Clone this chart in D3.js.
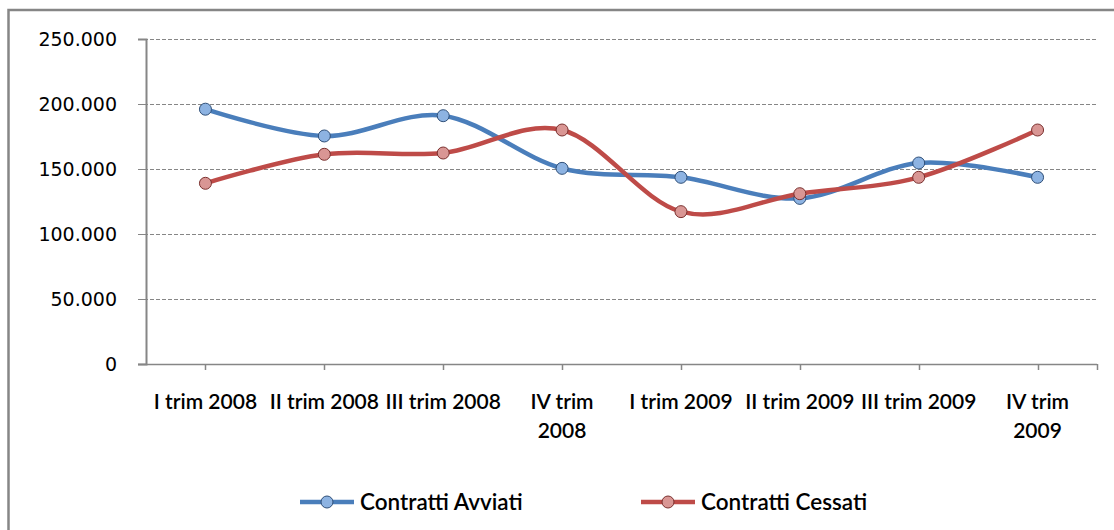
<!DOCTYPE html>
<html>
<head>
<meta charset="utf-8">
<script src="https://cdn.jsdelivr.net/npm/d3@7"></script>
<style>
  html, body { margin: 0; padding: 0; background: #ffffff; }
  svg { display: block; }
</style>
</head>
<body>
<div id="chart"></div>
<script>
// Quarterly contracts: started vs. terminated
const categories = ["I trim 2008", "II trim 2008", "III trim 2008", "IV trim 2008",
                    "I trim 2009", "II trim 2009", "III trim 2009", "IV trim 2009"];
const tickLabelLines = [["I trim 2008"], ["II trim 2008"], ["III trim 2008"], ["IV trim", "2008"],
                        ["I trim 2009"], ["II trim 2009"], ["III trim 2009"], ["IV trim", "2009"]];
const contrattiAvviati = [196000, 175400, 191000, 150500, 143600, 127400, 154600, 143600];
const contrattiCessati = [139000, 161300, 162300, 180000, 117200, 131000, 143600, 180000];
const yTickValues = [0, 50000, 100000, 150000, 200000, 250000];
const seriesNames = ["Contratti Avviati", "Contratti Cessati"];

const W = 1114, H = 530;
const plot = { left: 146, right: 1097, top: 39, bottom: 364 };

const series = [
  { name: seriesNames[0], values: contrattiAvviati, line: "#4a7ebb", fill: "#8db3e2", edge: "#2f4f78" },
  { name: seriesNames[1], values: contrattiCessati, line: "#be4b48", fill: "#d99694", edge: "#7a302e" }
];

const it = d3.formatLocale({ decimal: ",", thousands: ".", grouping: [3], currency: ["€", ""] });
const fmt = it.format(",");

const svg = d3.select("#chart").append("svg").attr("width", W).attr("height", H);

// outer chart frame
svg.append("rect")
  .attr("x", 8.5).attr("y", 10).attr("width", W + 20).attr("height", H + 20)
  .attr("fill", "none").attr("stroke", "#868686").attr("stroke-width", 2.5);

const x = d3.scalePoint().domain(categories).range([plot.left, plot.right]).padding(0.5);
const y = d3.scaleLinear().domain([0, 250000]).range([plot.bottom, plot.top]);

// horizontal gridlines
svg.append("g").selectAll("line")
  .data(yTickValues.filter(v => v > 0))
  .join("line")
  .attr("x1", plot.left - 8).attr("x2", plot.right)
  .attr("y1", d => Math.round(y(d)) + 0.5).attr("y2", d => Math.round(y(d)) + 0.5)
  .attr("stroke", "#868686").attr("stroke-width", 1)
  .attr("stroke-dasharray", "4,2");

// y axis
const yAxis = svg.append("g").attr("transform", `translate(${plot.left},0)`)
  .call(d3.axisLeft(y).tickValues(yTickValues).tickFormat(fmt).tickSize(8).tickPadding(21));
yAxis.select(".domain").attr("stroke", "#868686").attr("stroke-width", 2);
yAxis.selectAll(".tick line").attr("stroke", "#868686");
yAxis.selectAll(".tick text")
  .attr("fill", "#000").attr("font-family", "DejaVu Sans").attr("font-size", 19);

// x axis
const xAxisG = svg.append("g");
xAxisG.append("line")
  .attr("x1", plot.left - 8).attr("x2", plot.right)
  .attr("y1", plot.bottom + 0.5).attr("y2", plot.bottom + 0.5)
  .attr("stroke", "#868686").attr("stroke-width", 1.5);
const tickXs = categories.map(c => x(c)).concat([plot.right]);
xAxisG.selectAll("line.tk").data(tickXs).join("line").attr("class", "tk")
  .attr("x1", d => Math.round(d) + 0.5).attr("x2", d => Math.round(d) + 0.5)
  .attr("y1", plot.bottom).attr("y2", plot.bottom + 6)
  .attr("stroke", "#868686").attr("stroke-width", 1.5);

const labelFont = "Lato";
xAxisG.selectAll("text.cat").data(categories).join("text").attr("class", "cat")
  .attr("x", d => x(d)).attr("y", 409)
  .attr("text-anchor", "middle")
  .attr("font-family", labelFont).attr("font-size", 21).attr("font-weight", 600)
  .attr("fill", "#000")
  .each(function (d, i) {
    const t = d3.select(this);
    tickLabelLines[i].forEach((ln, j) => {
      t.append("tspan").attr("x", x(d)).attr("dy", j === 0 ? 0 : 29).text(ln);
    });
  });

// smoothed series lines and markers
const line = d3.line()
  .x((d, i) => x(categories[i]))
  .y(d => y(d))
  .curve(d3.curveCardinal.tension(0));

series.forEach(s => {
  svg.append("path").datum(s.values)
    .attr("d", line).attr("fill", "none")
    .attr("stroke", s.line).attr("stroke-width", 4.5)
    .attr("stroke-linecap", "round").attr("stroke-linejoin", "round");
});
series.forEach(s => {
  svg.append("g").selectAll("circle").data(s.values).join("circle")
    .attr("cx", (d, i) => x(categories[i])).attr("cy", d => y(d))
    .attr("r", 6).attr("fill", s.fill).attr("stroke", s.edge).attr("stroke-width", 1);
});

// legend
const legendY = 502;
const legendItems = [
  { s: series[0], x0: 300 },
  { s: series[1], x0: 641 }
];
legendItems.forEach(li => {
  const g = svg.append("g");
  g.append("line").attr("x1", li.x0).attr("x2", li.x0 + 54)
    .attr("y1", legendY).attr("y2", legendY)
    .attr("stroke", li.s.line).attr("stroke-width", 4.5);
  g.append("circle").attr("cx", li.x0 + 27).attr("cy", legendY).attr("r", 6)
    .attr("fill", li.s.fill).attr("stroke", li.s.edge).attr("stroke-width", 1);
  g.append("text").attr("x", li.x0 + 60).attr("y", legendY + 8)
    .attr("font-family", labelFont).attr("font-size", 22.5).attr("font-weight", 600)
    .attr("fill", "#000").text(li.s.name);
});
</script>
</body>
</html>
